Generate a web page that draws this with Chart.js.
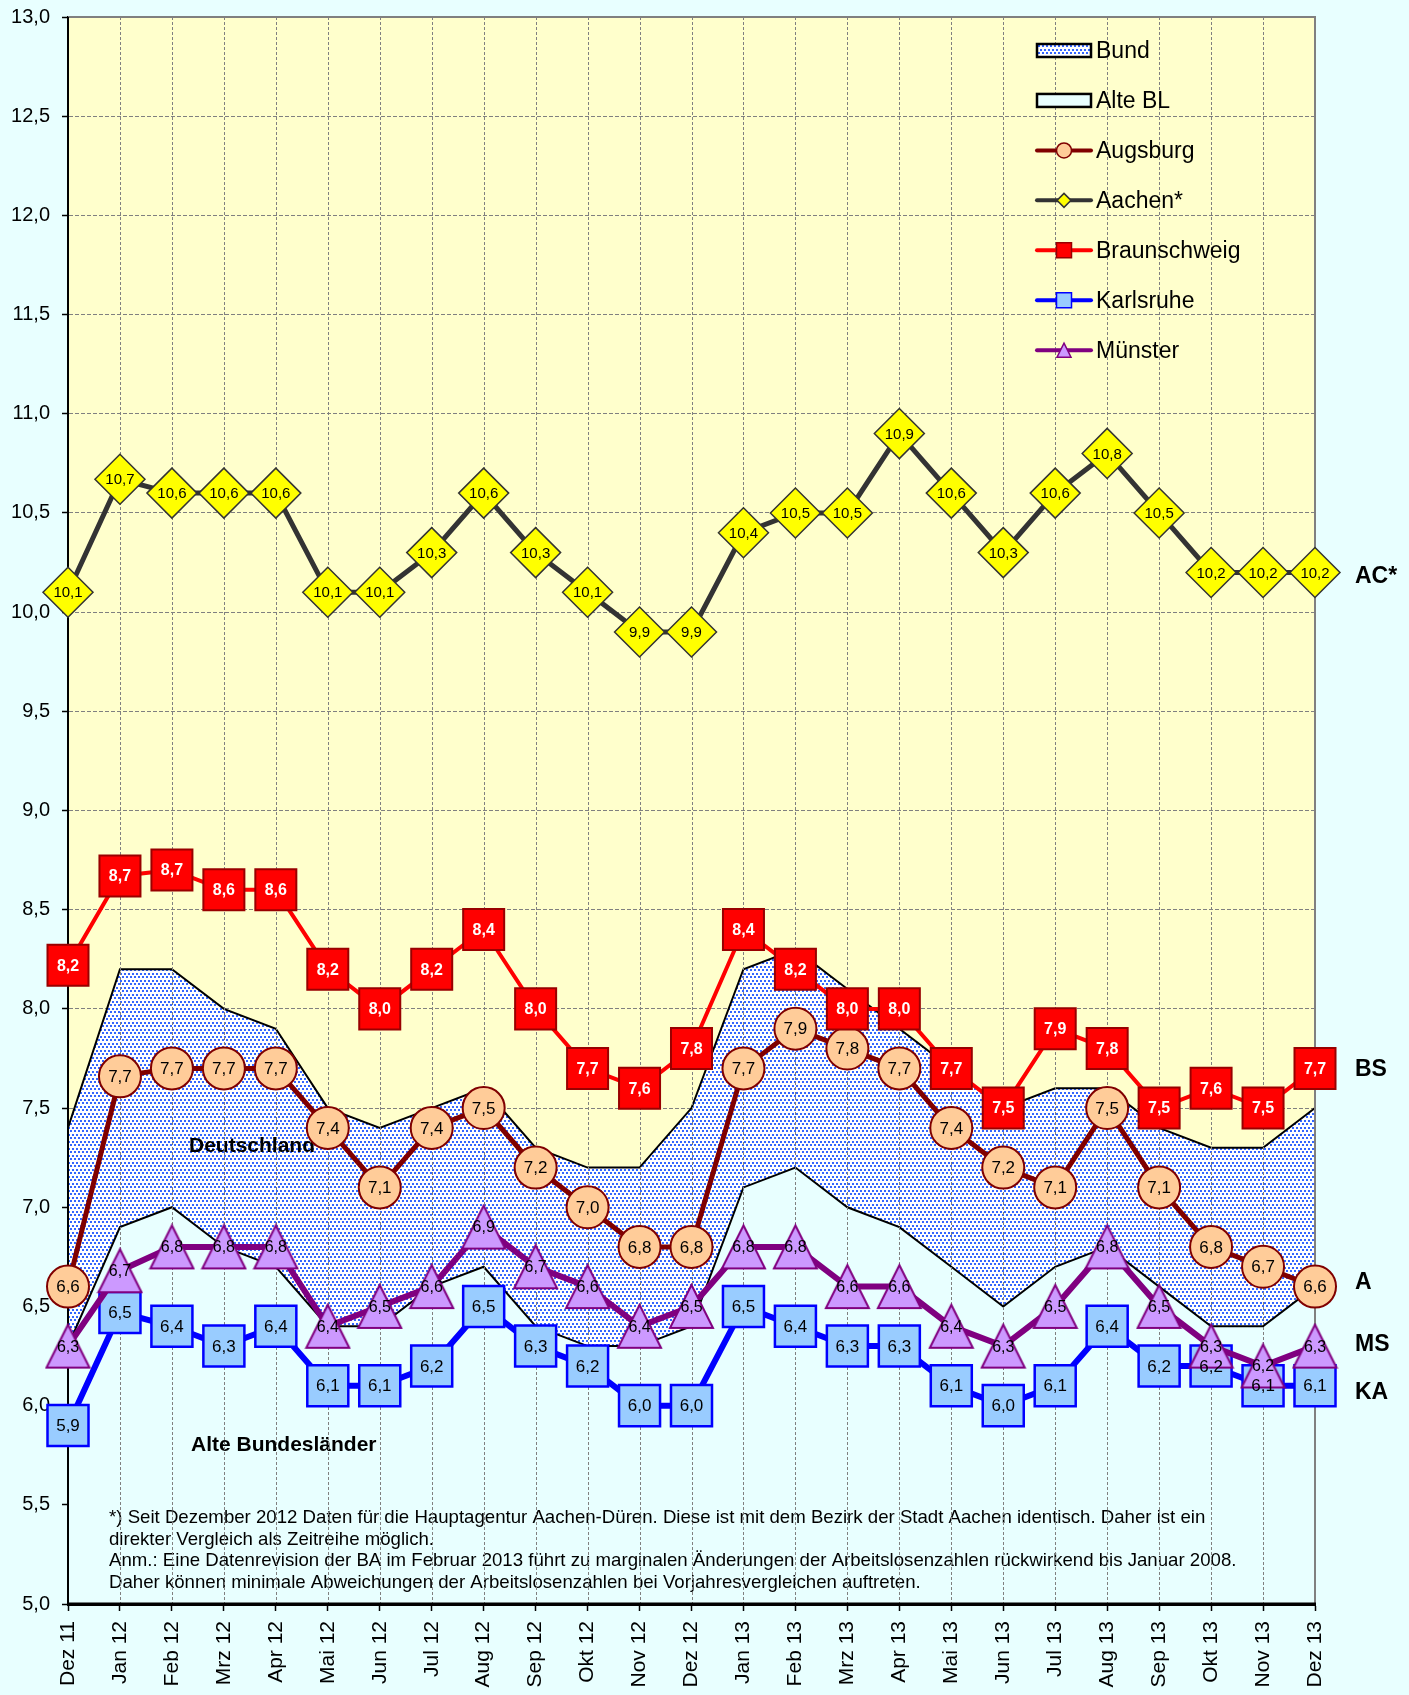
<!DOCTYPE html>
<html>
<head>
<meta charset="utf-8">
<script src="https://cdn.jsdelivr.net/npm/chart.js@4/dist/chart.umd.min.js"></script>
<style>
    html, body { margin:0; padding:0; background:#E8FFFF; }
    canvas { display:block; }
</style>
</head>
<body>
<canvas id="chart" width="1409" height="1695"></canvas>
<script>
const months = ['Dez 11','Jan 12','Feb 12','Mrz 12','Apr 12','Mai 12','Jun 12','Jul 12','Aug 12','Sep 12','Okt 12','Nov 12','Dez 12',
    'Jan 13','Feb 13','Mrz 13','Apr 13','Mai 13','Jun 13','Jul 13','Aug 13','Sep 13','Okt 13','Nov 13','Dez 13'];

const bund = [7.4, 8.2, 8.2, 8.0, 7.9, 7.5, 7.4, 7.5, 7.6, 7.3, 7.2, 7.2, 7.5, 8.2, 8.3, 8.1, 7.9, 7.7, 7.5, 7.6, 7.6, 7.4, 7.3, 7.3, 7.5];
const alteBL = [6.3, 6.9, 7.0, 6.8, 6.7, 6.4, 6.4, 6.6, 6.7, 6.4, 6.3, 6.3, 6.4, 7.1, 7.2, 7.0, 6.9, 6.7, 6.5, 6.7, 6.8, 6.6, 6.4, 6.4, 6.6];
const augsburg = [6.6, 7.66, 7.7, 7.7, 7.7, 7.4, 7.1, 7.4, 7.5, 7.2, 7.0, 6.8, 6.8, 7.7, 7.9, 7.8, 7.7, 7.4, 7.2, 7.1, 7.5, 7.1, 6.8, 6.7, 6.6];
const aachen = [10.1, 10.67, 10.6, 10.6, 10.6, 10.1, 10.1, 10.3, 10.6, 10.3, 10.1, 9.9, 9.9, 10.4, 10.5, 10.5, 10.9, 10.6, 10.3, 10.6, 10.8, 10.5, 10.2, 10.2, 10.2];
const braunschweig = [8.22, 8.67, 8.7, 8.6, 8.6, 8.2, 8.0, 8.2, 8.4, 8.0, 7.7, 7.6, 7.8, 8.4, 8.2, 8.0, 8.0, 7.7, 7.5, 7.9, 7.8, 7.5, 7.6, 7.5, 7.7];
const karlsruhe = [5.9, 6.47, 6.4, 6.3, 6.4, 6.1, 6.1, 6.2, 6.5, 6.3, 6.2, 6.0, 6.0, 6.5, 6.4, 6.3, 6.3, 6.1, 6.0, 6.1, 6.4, 6.2, 6.2, 6.1, 6.1];
const muenster = [6.3, 6.68, 6.8, 6.8, 6.8, 6.4, 6.5, 6.6, 6.9, 6.7, 6.6, 6.4, 6.5, 6.8, 6.8, 6.6, 6.6, 6.4, 6.3, 6.5, 6.8, 6.5, 6.3, 6.2, 6.3];

const yMin = 5, yMax = 13, yStep = 0.5;

const footnote = [
    '*) Seit Dezember 2012 Daten für die Hauptagentur Aachen-Düren. Diese ist mit dem Bezirk der Stadt Aachen identisch. Daher ist ein',
    'direkter Vergleich als Zeitreihe möglich.',
    'Anm.: Eine Datenrevision der BA im Februar 2013 führt zu marginalen Änderungen der Arbeitslosenzahlen rückwirkend bis Januar 2008.',
    'Daher können minimale Abweichungen der Arbeitslosenzahlen bei Vorjahresvergleichen auftreten.'
];

const FONT = 'Arial, "Liberation Sans", sans-serif';
const fmt = v => Number(v).toFixed(1).replace('.', ',');

const canvas = document.getElementById('chart');
const mainCtx = canvas.getContext('2d');

// blue dotted fill for "Bund"
function makePattern() {
    const pc = document.createElement('canvas');
    pc.width = 4; pc.height = 7;
    const p = pc.getContext('2d');
    p.fillStyle = '#ffffff';
    p.fillRect(0, 0, 4, 7);
    p.fillStyle = '#3366ff';
    p.fillRect(0, 0, 2, 2);
    p.fillRect(2, 3, 2, 2);
    return mainCtx.createPattern(pc, 'repeat');
}
const dots = makePattern();

function triangleMarker(size, fill, stroke, lw) {
    const pad = 2;
    const c = document.createElement('canvas');
    c.width = size + pad * 2; c.height = size + pad * 2;
    const g = c.getContext('2d');
    g.beginPath();
    g.moveTo(pad + size / 2, pad);
    g.lineTo(pad + size, pad + size);
    g.lineTo(pad, pad + size);
    g.closePath();
    g.fillStyle = fill; g.fill();
    g.lineWidth = lw; g.strokeStyle = stroke; g.stroke();
    return c;
}

const series = [
    { key:'augsburg', label:'Augsburg', data:augsburg, line:'#800000', width:5, style:'circle', radius:21, fill:'#FFCC99', border:'#800000', bw:2, text:'#000', bold:false, size:17, end:'A', endDy:-5, order:5 },
    { key:'aachen', label:'Aachen*', data:aachen, line:'#333333', width:5, style:'rectRot', radius:25, fill:'#FFFF00', border:'#333333', bw:1.5, text:'#000', bold:false, size:15, end:'AC*', endDy:3, order:4 },
    { key:'bs', label:'Braunschweig', data:braunschweig, line:'#FF0000', width:4, style:'rect', radius:29, fill:'#FF0000', border:'#990000', bw:2, text:'#fff', bold:true, size:16, end:'BS', endDy:0, order:3 },
    { key:'ka', label:'Karlsruhe', data:karlsruhe, line:'#0000FF', width:6, style:'rect', radius:29, fill:'#99CCFF', border:'#0000FF', bw:2.5, text:'#000', bold:false, size:17, end:'KA', endDy:6, order:2 },
    { key:'ms', label:'Münster', data:muenster, line:'#800080', width:6, style:triangleMarker(43, '#CC99FF', '#800080', 2), radius:22, fill:'#CC99FF', border:'#800080', bw:2, text:'#000', bold:false, size:16, end:'MS', endDy:-2, order:1 }
];

const datasets = [
    { label:'Bund', data:bund, fill:'start', backgroundColor:dots, borderColor:'#000', borderWidth:2, pointRadius:0, order:7 },
    { label:'Alte BL', data:alteBL, fill:'start', backgroundColor:'#E8FFFF', borderColor:'#000', borderWidth:2, pointRadius:0, order:6 }
].concat(series.map(s => ({
    label:s.label,
    data:s.data,
    fill:false,
    borderColor:s.line,
    borderWidth:s.width,
    pointStyle:s.style,
    pointRadius:s.radius,
    pointBackgroundColor:s.fill,
    pointBorderColor:s.border,
    pointBorderWidth:s.bw,
    clip:false,
    order:s.order
})));

const background = {
    id:'background',
    beforeDraw(chart) {
        const { ctx, chartArea:a } = chart;
        ctx.save();
        ctx.fillStyle = '#E8FFFF';
        ctx.fillRect(0, 0, chart.width, chart.height);
        ctx.fillStyle = '#FFFFCC';
        ctx.fillRect(a.left, a.top, a.right - a.left, a.bottom - a.top);
        ctx.restore();
    }
};

// texts, vertical grid and frame go between the areas and the lines
const overlay = {
    id:'overlay',
    afterDatasetDraw(chart, args) {
        if (args.index !== 1) return;
        const { ctx, chartArea:a } = chart;
        const xs = chart.scales.x;
        ctx.save();

        ctx.fillStyle = '#000';
        ctx.font = `17px ${FONT}`;
        const fs = 17 * 1097 / ctx.measureText(footnote[0]).width;
        ctx.font = `${fs.toFixed(2)}px ${FONT}`;
        ctx.textBaseline = 'middle';
        ctx.textAlign = 'left';
        footnote.forEach((line, i) => ctx.fillText(line, 109, 1518 + i * 21.5));

        ctx.font = `bold 21px ${FONT}`;
        ctx.fillText('Deutschland', 189, 1146);
        ctx.fillText('Alte Bundesländer', 191, 1445);

        ctx.strokeStyle = '#808080';
        ctx.lineWidth = 1;
        ctx.setLineDash([3, 2]);
        for (let i = 1; i < months.length - 1; i++) {
            const x = Math.round(xs.getPixelForValue(i)) + 0.5;
            ctx.beginPath();
            ctx.moveTo(x, a.top);
            ctx.lineTo(x, a.bottom);
            ctx.stroke();
        }
        ctx.setLineDash([]);

        ctx.strokeStyle = '#808080';
        ctx.lineWidth = 2;
        ctx.beginPath();
        ctx.moveTo(a.left, a.top);
        ctx.lineTo(a.right, a.top);
        ctx.lineTo(a.right, a.bottom);
        ctx.stroke();

        ctx.strokeStyle = '#000';
        ctx.beginPath();
        ctx.moveTo(a.left, a.top);
        ctx.lineTo(a.left, a.bottom);
        ctx.stroke();
        ctx.lineWidth = 3;
        ctx.beginPath();
        ctx.moveTo(a.left, a.bottom);
        ctx.lineTo(a.right + 1, a.bottom);
        ctx.stroke();
        ctx.restore();
    }
};

const valueLabels = {
    id:'valueLabels',
    afterDatasetsDraw(chart) {
        const ctx = chart.ctx;
        ctx.save();
        ctx.textAlign = 'center';
        ctx.textBaseline = 'middle';
        series.forEach((s, si) => {
            const meta = chart.getDatasetMeta(si + 2);
            ctx.font = `${s.bold ? 'bold ' : ''}${s.size}px ${FONT}`;
            ctx.fillStyle = s.text;
            meta.data.forEach((pt, i) => ctx.fillText(fmt(s.data[i]), pt.x, pt.y + 1));
        });

        // series names right of the plot
        ctx.textAlign = 'left';
        ctx.fillStyle = '#000';
        ctx.font = `bold 23px ${FONT}`;
        const ys = chart.scales.y;
        series.forEach(s => {
            ctx.fillText(s.end, 1355, ys.getPixelForValue(s.data[s.data.length - 1]) + 1 + s.endDy);
        });
        ctx.restore();
    }
};

const legendBox = {
    id:'legendBox',
    afterDraw(chart) {
        const ctx = chart.ctx;
        const x1 = 1037, x2 = 1091, cx = 1064, tx = 1096;
        const rowY = i => 50.5 + i * 49.95;
        ctx.save();
        ctx.font = `23px ${FONT}`;
        ctx.textBaseline = 'middle';
        ctx.textAlign = 'left';

        [['Bund', dots], ['Alte BL', '#E8FFFF']].forEach(([name, fill], i) => {
            const y = rowY(i);
            ctx.fillStyle = fill;
            ctx.fillRect(x1, y - 6.5, x2 - x1, 13);
            ctx.strokeStyle = '#000';
            ctx.lineWidth = 2.5;
            ctx.strokeRect(x1, y - 6.5, x2 - x1, 13);
            ctx.fillStyle = '#000';
            ctx.fillText(name, tx, y + 1);
        });

        series.forEach((s, i) => {
            const y = rowY(i + 2);
            ctx.strokeStyle = s.line;
            ctx.lineWidth = 4;
            ctx.lineCap = 'round';
            ctx.beginPath();
            ctx.moveTo(x1, y);
            ctx.lineTo(x2, y);
            ctx.stroke();
            ctx.lineCap = 'butt';
            ctx.fillStyle = s.fill;
            ctx.strokeStyle = s.border;
            ctx.lineWidth = 1.5;
            ctx.beginPath();
            if (s.style === 'circle') {
                ctx.arc(cx, y, 7.5, 0, Math.PI * 2);
            } else if (s.style === 'rectRot') {
                ctx.moveTo(cx - 7, y); ctx.lineTo(cx, y - 7); ctx.lineTo(cx + 7, y); ctx.lineTo(cx, y + 7); ctx.closePath();
            } else if (s.style === 'rect') {
                ctx.rect(cx - 7.5, y - 7.5, 15, 15);
            } else {
                ctx.moveTo(cx, y - 7); ctx.lineTo(cx + 7, y + 7); ctx.lineTo(cx - 7, y + 7); ctx.closePath();
            }
            ctx.fill();
            ctx.stroke();
            ctx.fillStyle = '#000';
            ctx.fillText(s.label, tx, y + 1);
        });
        ctx.restore();
    }
};

new Chart(canvas, {
    type:'line',
    data:{ labels:months, datasets },
    options:{
        responsive:false,
        animation:false,
        events:[],
        devicePixelRatio:1,
        layout:{ autoPadding:false, padding:{ top:17, right:94, bottom:0, left:0 } },
        elements:{ line:{ tension:0 } },
        plugins:{ legend:{ display:false }, tooltip:{ enabled:false } },
        scales:{
            x:{
                type:'category',
                offset:false,
                afterFit(scale) { scale.height = 91; },
                grid:{ display:true, drawOnChartArea:false, drawTicks:true, tickLength:7, tickColor:'#000', tickWidth:1.5 },
                border:{ display:true, color:'#000', width:3 },
                ticks:{ autoSkip:false, minRotation:90, maxRotation:90, padding:10, color:'#000', font:{ family:FONT, size:21 } }
            },
            y:{
                min:yMin,
                max:yMax,
                afterFit(scale) {
                    scale.width = 68;
                    scale.paddingTop = 0;
                    scale.paddingBottom = 0;
                },
                grid:{ color:'#808080', lineWidth:1, tickLength:6, tickColor:'#000', tickWidth:1.5 },
                border:{ display:true, color:'#000', width:2, dash:[4, 2] },
                ticks:{ stepSize:yStep, padding:12, color:'#000', font:{ family:FONT, size:20 }, callback:v => fmt(v) }
            }
        }
    },
    plugins:[background, overlay, valueLabels, legendBox]
});
</script>
</body>
</html>
